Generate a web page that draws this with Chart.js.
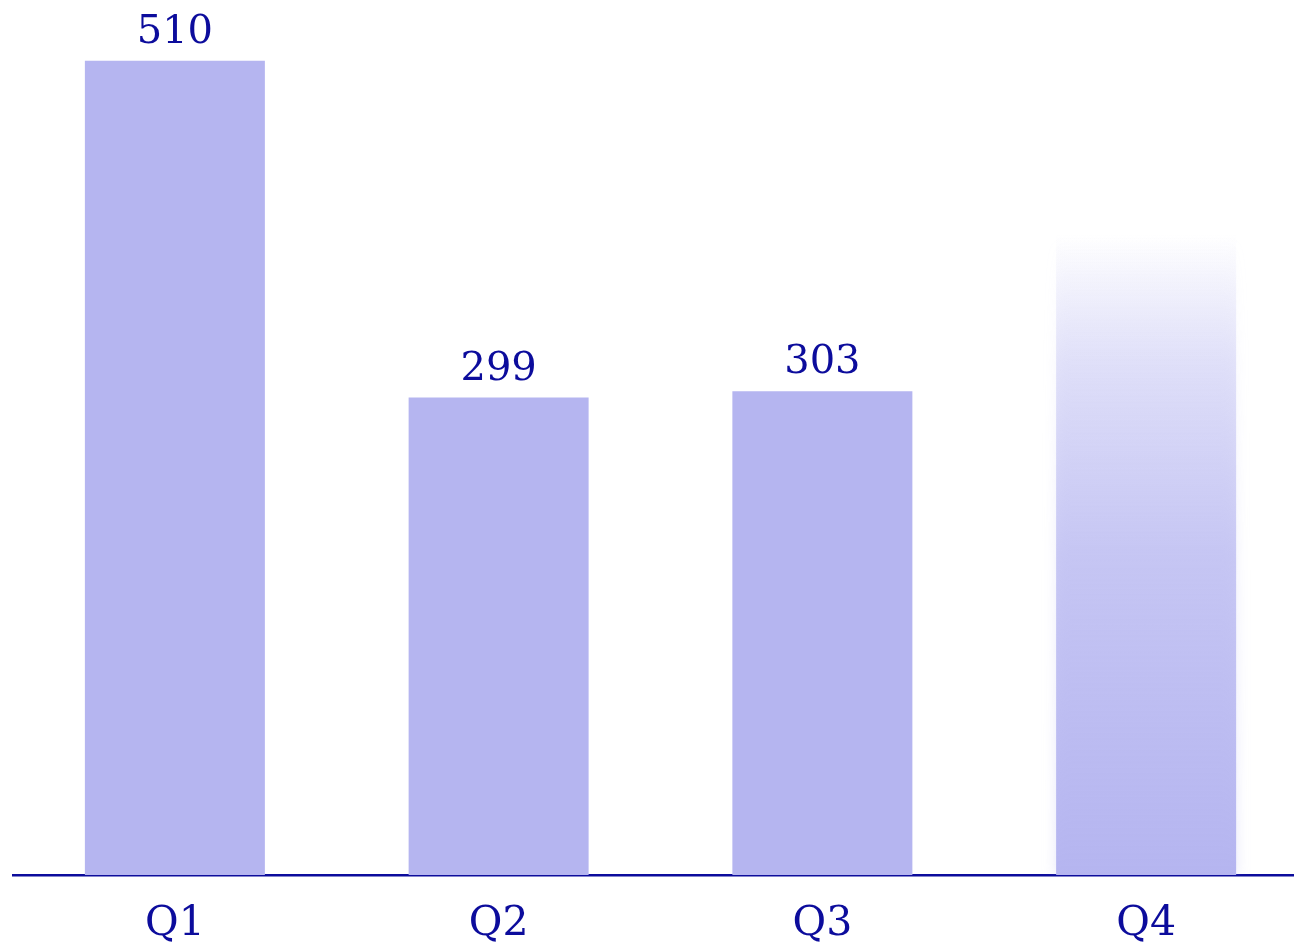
<!DOCTYPE html>
<html>
<head>
<meta charset="utf-8">
<script src="https://cdn.jsdelivr.net/npm/chart.js@4/dist/chart.umd.min.js"></script>
<style>
  html, body { margin: 0; padding: 0; background: #ffffff; overflow: hidden; }
  #wrap { width: 1308px; height: 947px; }
</style>
</head>
<body>
<div id="wrap"><canvas id="c" width="1308" height="947"></canvas></div>
<script>
const categories = ["Q1", "Q2", "Q3", "Q4"];
const actualValues = [510, 299, 303, null];
const projectedValues = [null, null, null, 401];
const valueLabels = ["510", "299", "303", ""];

const INK = "#0c0c9c";
const BAR = "rgb(181,181,240)";
const FONT = "'DejaVu Serif', 'Liberation Serif', serif";

const labelPlugin = {
  id: "valueLabels",
  afterDatasetsDraw(chart) {
    const ctx = chart.ctx;
    const meta = chart.getDatasetMeta(0);
    ctx.save();
    ctx.fillStyle = INK;
    ctx.font = "40px " + FONT;
    ctx.textAlign = "center";
    ctx.textBaseline = "alphabetic";
    meta.data.forEach((el, i) => {
      if (actualValues[i] == null || !valueLabels[i]) return;
      ctx.fillText(valueLabels[i], el.x, el.y - 18);
    });
    ctx.restore();
  }
};

const haloPlugin = {
  id: "haloProjected",
  beforeDatasetDraw(chart, args) {
    if (args.index === 1) {
      const ctx = chart.ctx;
      ctx.save();
      ctx.shadowColor = "rgba(181,181,240,0.35)";
      ctx.shadowBlur = 12;
    }
  },
  afterDatasetDraw(chart, args) {
    if (args.index === 1) {
      chart.ctx.restore();
    }
  }
};

new Chart(document.getElementById("c"), {
  type: "bar",
  data: {
    labels: categories,
    datasets: [
      {
        data: actualValues,
        backgroundColor: BAR,
        borderWidth: 0,
        categoryPercentage: 1,
        barPercentage: 0.556
      },
      {
        data: projectedValues,
        backgroundColor: (ctx) => {
          const ca = ctx.chart.chartArea;
          if (!ca) return BAR;
          const top = ctx.chart.scales.y.getPixelForValue(401);
          const g = ctx.chart.ctx.createLinearGradient(0, ca.bottom, 0, top);
          g.addColorStop(0, "rgba(181,181,240,1)");
          g.addColorStop(0.5, "rgba(181,181,240,0.7)");
          g.addColorStop(0.8, "rgba(181,181,240,0.35)");
          g.addColorStop(1, "rgba(181,181,240,0)");
          return g;
        },
        borderWidth: 0,
        categoryPercentage: 1,
        barPercentage: 0.556,
        clip: { left: false, top: false, right: false, bottom: 0 }
      }
    ]
  },
  options: {
    responsive: false,
    animation: false,
    events: [],
    layout: { padding: { left: 13, right: 0, top: 0, bottom: 0 } },
    plugins: {
      legend: { display: false },
      tooltip: { enabled: false },
      title: { display: false }
    },
    scales: {
      x: {
        stacked: true,
        afterFit(scale) { scale.height = 72; },
        grid: { display: false, drawTicks: false },
        border: { display: true, color: INK, width: 2.5 },
        ticks: {
          color: INK,
          font: { family: FONT, size: 41 },
          padding: 25
        }
      },
      y: {
        stacked: true,
        display: false,
        min: 0,
        max: 548
      }
    }
  },
  plugins: [labelPlugin, haloPlugin]
});
</script>
</body>
</html>
